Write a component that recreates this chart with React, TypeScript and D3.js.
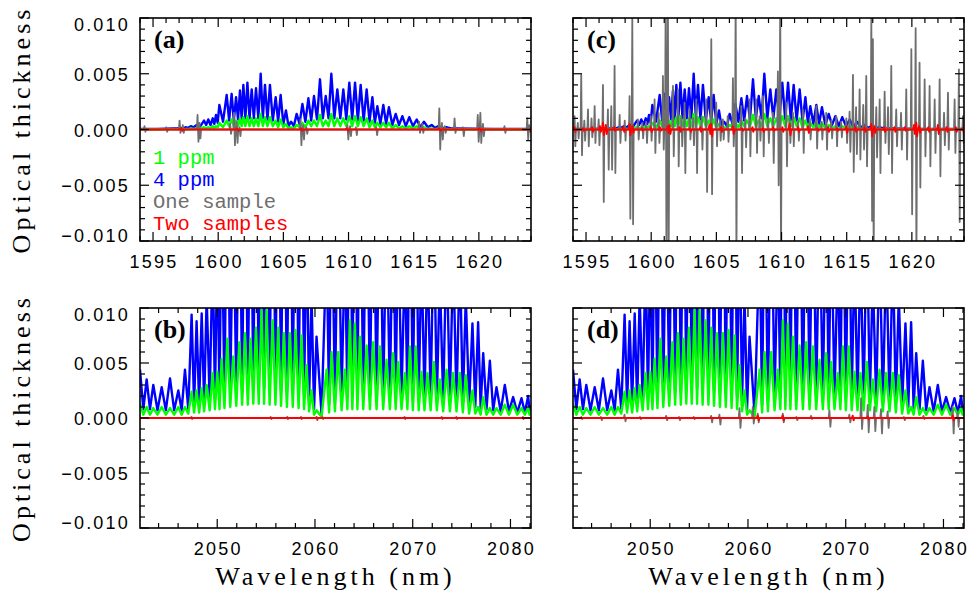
import React from "react";
import * as d3 from "d3";

// ---------------- DATA ----------------
// Panel (a)/(c): 1594-1624 nm band. Line centres (nm)
const aLines = [1594.0, 1596.6, 1597.1, 1597.5, 1597.9, 1598.35, 1598.91, 1599.24, 1599.58, 1599.83, 1600.09, 1600.65, 1601.03, 1601.37, 1601.67, 1601.93, 1602.24, 1602.57, 1602.9, 1603.26, 1603.59, 1603.97, 1604.41, 1604.79, 1605.2, 1605.59, 1606.02, 1606.46, 1606.92, 1607.35, 1607.81, 1608.25, 1608.68, 1609.14, 1609.6, 1610.06, 1610.5, 1610.93, 1611.39, 1611.83, 1612.21, 1612.67, 1613.1, 1613.62, 1614.13, 1614.66, 1615.23, 1615.79, 1616.38, 1616.9, 1617.5, 1618.2, 1624.0];
// 4 ppm peak optical thickness
const aBlue = [0.00005, 0.0001, 0.00015, 0.0002, 0.0003, 0.0004, 0.0008, 0.0009, 0.001, 0.0013, 0.0022, 0.0031, 0.0032, 0.0029, 0.0035, 0.004, 0.0042, 0.0036, 0.0037, 0.005, 0.004, 0.004, 0.0029, 0.0031, 0.0017, 0.0007, 0.0014, 0.0023, 0.0028, 0.003, 0.0045, 0.003, 0.005, 0.0036, 0.0036, 0.0042, 0.0042, 0.004, 0.0036, 0.0029, 0.0021, 0.0022, 0.002, 0.0014, 0.0012, 0.0011, 0.0009, 0.0007, 0.0004, 0.0003, 0.0002, 0.0001, 0.00005];
// 4 ppm value between consecutive lines
const aBlueTrough = [0.00005, 0.0001, 0.0001, 0.00015, 0.0002, 0.0003, 0.0004, 0.0004, 0.0005, 0.0006, 0.0007, 0.0008, 0.0008, 0.0009, 0.0009, 0.001, 0.001, 0.001, 0.001, 0.001, 0.0009, 0.0008, 0.0007, 0.0005, 0.0003, 0.0003, 0.0005, 0.0007, 0.0008, 0.0009, 0.001, 0.001, 0.001, 0.001, 0.0009, 0.0009, 0.0008, 0.0008, 0.0007, 0.0006, 0.0005, 0.0005, 0.0004, 0.0004, 0.0003, 0.0003, 0.0002, 0.0002, 0.00015, 0.0001, 0.0001, 0.00005];
// 1 ppm peak optical thickness
const aGreen = [0.00002, 0.00003, 0.00004, 0.00005, 0.0001, 0.0001, 0.0002, 0.0002, 0.0003, 0.0003, 0.0006, 0.0008, 0.0009, 0.0008, 0.001, 0.0011, 0.0012, 0.001, 0.001, 0.0014, 0.0011, 0.0011, 0.0008, 0.0009, 0.0005, 0.0002, 0.0004, 0.0006, 0.0008, 0.0008, 0.0013, 0.0008, 0.0014, 0.001, 0.001, 0.0012, 0.0012, 0.0011, 0.001, 0.0008, 0.0006, 0.0006, 0.0006, 0.0004, 0.0003, 0.0003, 0.0003, 0.0002, 0.0001, 0.0001, 0.00005, 0.00003, 0.00002];
const aGreenTrough = [0.00002, 0.00003, 0.00003, 0.00004, 0.00005, 0.0001, 0.0001, 0.0001, 0.00015, 0.0002, 0.0002, 0.0003, 0.0003, 0.0003, 0.0003, 0.0003, 0.0003, 0.0003, 0.0003, 0.0003, 0.0003, 0.0003, 0.0002, 0.0002, 0.0001, 0.0001, 0.0002, 0.0002, 0.0003, 0.0003, 0.0003, 0.0003, 0.0003, 0.0003, 0.0003, 0.0003, 0.0003, 0.0003, 0.0002, 0.0002, 0.0002, 0.0002, 0.0001, 0.0001, 0.0001, 0.0001, 0.00005, 0.00005, 0.00004, 0.00003, 0.00002, 0.00002];
// "One sample" retrieval error, panel (a): [nm, upper, lower]
const aGray = [[1594.38, 0.0003, -0.0002], [1596.05, 0.0002, -0.0002], [1597.07, 0.0008, -0.0003], [1597.32, 0.0004, -0.0003], [1598.45, 0.0013, -0.0011], [1598.6, 0.0006, -0.0008], [1600.95, 0.0005, -0.0004], [1601.25, 0.0015, -0.0014], [1601.45, 0.0007, -0.0012], [1601.67, 0.0002, -0.0006], [1606.35, 0.0009, -0.0014], [1606.55, 0.0004, -0.0009], [1606.8, 0.0002, -0.0004], [1609.95, 0.0004, -0.0009], [1610.15, 0.0003, -0.0006], [1610.6, 0.0002, -0.0005], [1612.16, 0.0002, -0.0005], [1615.45, 0.0007, -0.0003], [1615.7, 0.0005, -0.0003], [1617.0, 0.0019, -0.0018], [1617.2, 0.0006, -0.0009], [1617.42, 0.0003, -0.0003], [1618.17, 0.001, -0.0003], [1618.81, 0.0002, -0.0006], [1619.95, 0.0013, -0.0011], [1620.15, 0.0015, -0.0012], [1620.35, 0.0005, -0.0006], [1622.0, 0.0003, -0.0003], [1623.75, 0.001, -0.0009], [1623.9, 0.0004, -0.0002]];
const aRed = [[1597.2, 0.0001, -0.0001], [1601.5, 0.0001, -0.0001], [1606.4, 0.0001, -0.0001], [1609.9, 0.0001, -0.0001], [1617.0, 0.0001, -0.0001], [1620.1, 0.0001, -0.0001]];
// panel (c)
const cGray = [[1594.15, 0.0012, -0.0015], [1594.4, 0.0006, -0.0008], [1594.66, 0.0049, -0.0023], [1594.9, 0.0008, -0.0010], [1595.18, 0.0018, -0.0015], [1595.45, 0.0010, -0.0007], [1595.69, 0.0021, -0.0012], [1596.0, 0.0009, -0.0014], [1596.33, 0.004, -0.0065], [1596.71, 0.0018, -0.0036], [1596.97, 0.0021, -0.0036], [1597.22, 0.0057, -0.0039], [1597.61, 0.0013, -0.0012], [1598.0, 0.0008, -0.0010], [1598.37, 0.003, -0.008], [1598.58, 0.01, -0.0085], [1599.01, 0.0009, -0.0009], [1599.35, 0.0006, -0.0008], [1599.65, 0.0007, -0.0012], [1600.0, 0.0012, -0.0010], [1600.29, 0.0027, -0.0021], [1600.6, 0.0015, -0.0012], [1600.93, 0.0048, -0.0018], [1601.14, 0.012, -0.012], [1601.31, 0.012, -0.012], [1601.7, 0.0039, -0.0024], [1602.08, 0.0036, -0.0033], [1602.35, 0.0012, -0.0015], [1602.59, 0.0024, -0.0039], [1602.98, 0.0018, -0.0009], [1603.25, 0.0010, -0.0014], [1603.49, 0.0027, -0.0039], [1603.9, 0.0012, -0.0018], [1604.26, 0.0027, -0.0056], [1604.64, 0.0081, -0.0058], [1605.02, 0.0024, -0.0015], [1605.3, 0.0008, -0.0010], [1605.53, 0.0009, -0.0009], [1605.9, 0.0012, -0.0011], [1606.3, 0.0046, -0.0015], [1606.51, 0.012, -0.012], [1606.94, 0.0021, -0.0039], [1607.25, 0.0010, -0.0016], [1607.58, 0.0027, -0.0024], [1608.09, 0.0027, -0.0021], [1608.35, 0.0012, -0.0010], [1608.6, 0.003, -0.0024], [1609.0, 0.0010, -0.0012], [1609.37, 0.0015, -0.003], [1609.75, 0.0052, -0.005], [1609.93, 0.012, -0.012], [1610.39, 0.0024, -0.0033], [1610.65, 0.0010, -0.0012], [1610.91, 0.0015, -0.0015], [1611.3, 0.0008, -0.0010], [1611.67, 0.0018, -0.0021], [1612.2, 0.0010, -0.0009], [1612.7, 0.0021, -0.0017], [1613.1, 0.0007, -0.0009], [1613.46, 0.0015, -0.0018], [1613.85, 0.0008, -0.0008], [1614.23, 0.0012, -0.0015], [1614.6, 0.0007, -0.0007], [1615.0, 0.001, -0.0012], [1615.25, 0.0016, -0.0020], [1615.51, 0.0049, -0.0038], [1615.75, 0.0020, -0.0022], [1616.02, 0.0036, -0.0027], [1616.3, 0.0022, -0.0018], [1616.53, 0.0048, -0.0033], [1616.92, 0.0102, -0.0082], [1617.04, 0.0081, -0.012], [1617.3, 0.0020, -0.0025], [1617.56, 0.0027, -0.0039], [1617.94, 0.0034, -0.0012], [1618.2, 0.0020, -0.0022], [1618.45, 0.0057, -0.0039], [1618.83, 0.0018, -0.0015], [1619.2, 0.0015, -0.0018], [1619.6, 0.0036, -0.0027], [1619.99, 0.0072, -0.0076], [1620.32, 0.0091, -0.012], [1620.62, 0.006, -0.0052], [1621.01, 0.0045, -0.0024], [1621.39, 0.0039, -0.0033], [1621.78, 0.0027, -0.0021], [1622.16, 0.0045, -0.0042], [1622.5, 0.0015, -0.0014], [1622.8, 0.0033, -0.0018], [1623.31, 0.0027, -0.0021], [1623.64, 0.0054, -0.0083], [1623.95, 0.0012, -0.0012]];
const cRed = [[1594.15, 0.0002, -0.0002], [1594.8, 0.0001, -0.0001], [1595.5, 0.0002, -0.0002], [1596.1, 0.0003, -0.0002], [1596.33, 0.0006, -0.0005], [1596.55, 0.0004, -0.0004], [1597.2, 0.0002, -0.0001], [1597.9, 0.0002, -0.0002], [1598.37, 0.0005, -0.0005], [1598.6, 0.0003, -0.0003], [1599.3, 0.0001, -0.0001], [1600.0, 0.0002, -0.0002], [1600.7, 0.0002, -0.0001], [1601.3, 0.0003, -0.0003], [1601.44, 0.0004, -0.0004], [1602.2, 0.0002, -0.0002], [1603.0, 0.0001, -0.0002], [1603.8, 0.0002, -0.0002], [1604.5, 0.0004, -0.0004], [1604.64, 0.0005, -0.0006], [1605.4, 0.0002, -0.0002], [1606.3, 0.0003, -0.0004], [1607.0, 0.0001, -0.0001], [1607.8, 0.0002, -0.0002], [1608.6, 0.0001, -0.0002], [1609.4, 0.0002, -0.0001], [1610.1, 0.0002, -0.0002], [1610.65, 0.0005, -0.0005], [1611.3, 0.0002, -0.0002], [1612.06, 0.0003, -0.0003], [1612.8, 0.0001, -0.0001], [1613.6, 0.0002, -0.0002], [1614.3, 0.0001, -0.0001], [1615.0, 0.0003, -0.0003], [1615.7, 0.0002, -0.0002], [1616.4, 0.0002, -0.0002], [1616.92, 0.0005, -0.0006], [1617.15, 0.0003, -0.0003], [1617.9, 0.0002, -0.0002], [1618.7, 0.0002, -0.0002], [1619.5, 0.0002, -0.0001], [1620.2, 0.0004, -0.0004], [1620.37, 0.0006, -0.0006], [1620.6, 0.0003, -0.0003], [1621.3, 0.0002, -0.0002], [1622.03, 0.0004, -0.0004], [1622.7, 0.0002, -0.0002], [1623.4, 0.0002, -0.0002], [1623.9, 0.0001, -0.0001]];

// Panel (b)/(d): 2042-2082 nm band
const bLines = [2042.1, 2042.78, 2043.46, 2044.32, 2045.17, 2046.02, 2046.7, 2047.38, 2047.89, 2048.41, 2048.92, 2049.53, 2050.01, 2050.45, 2051.03, 2051.64, 2052.26, 2052.84, 2053.42, 2053.96, 2054.54, 2055.05, 2055.67, 2056.24, 2056.82, 2057.44, 2058.02, 2058.63, 2059.14, 2059.65, 2060.16, 2061.19, 2061.7, 2062.38, 2063.06, 2063.57, 2064.08, 2064.6, 2065.28, 2065.96, 2066.64, 2067.32, 2068.0, 2068.51, 2069.2, 2069.71, 2070.32, 2070.9, 2071.51, 2072.16, 2072.77, 2073.46, 2074.14, 2074.82, 2075.43, 2076.11, 2076.69, 2077.21, 2077.89, 2078.57, 2079.42, 2080.27, 2081.13, 2081.81, 2082.1];
const bBlue = [0.0044, 0.0035, 0.003, 0.0028, 0.0036, 0.0025, 0.0044, 0.0094, 0.0088, 0.0095, 0.011, 0.015, 0.016, 0.02, 0.026, 0.021, 0.025, 0.028, 0.026, 0.029, 0.034, 0.034, 0.031, 0.029, 0.028, 0.028, 0.029, 0.027, 0.018, 0.011, 0.0074, 0.016, 0.022, 0.022, 0.016, 0.031, 0.03, 0.026, 0.024, 0.025, 0.023, 0.019, 0.021, 0.0185, 0.015, 0.023, 0.023, 0.015, 0.015, 0.0185, 0.013, 0.016, 0.015, 0.015, 0.011, 0.0086, 0.0087, 0.0059, 0.0052, 0.0028, 0.003, 0.0019, 0.0018, 0.002, 0.0012];
const bBlueTrough = [0.0008, 0.0008, 0.0007, 0.0007, 0.0007, 0.0007, 0.0008, 0.0012, 0.0013, 0.0014, 0.0016, 0.0018, 0.0019, 0.002, 0.0022, 0.0023, 0.0024, 0.0025, 0.0026, 0.0027, 0.0027, 0.0027, 0.0026, 0.0025, 0.0024, 0.0023, 0.0022, 0.002, 0.0016, 0.0008, 0.0003, 0.0012, 0.0016, 0.0018, 0.0019, 0.002, 0.002, 0.002, 0.002, 0.002, 0.002, 0.0019, 0.0019, 0.0019, 0.0018, 0.0018, 0.0018, 0.0017, 0.0017, 0.0016, 0.0016, 0.0015, 0.0014, 0.0013, 0.0012, 0.001, 0.0009, 0.0008, 0.0007, 0.0006, 0.0006, 0.0005, 0.0005, 0.0006];
const bGreen = [0.0013, 0.001, 0.0009, 0.001, 0.0009, 0.001, 0.001, 0.0024, 0.0025, 0.0027, 0.003, 0.0041, 0.0042, 0.0054, 0.0072, 0.0056, 0.0069, 0.0077, 0.0072, 0.0082, 0.0098, 0.0098, 0.0089, 0.0082, 0.0077, 0.0077, 0.008, 0.0075, 0.0048, 0.0025, 0.0007, 0.0044, 0.006, 0.006, 0.0044, 0.0089, 0.0086, 0.0074, 0.0066, 0.0069, 0.0065, 0.0053, 0.0059, 0.0051, 0.0041, 0.0065, 0.0065, 0.0042, 0.0041, 0.0051, 0.0035, 0.0044, 0.0041, 0.0041, 0.0039, 0.0025, 0.001, 0.0019, 0.0009, 0.0009, 0.0012, 0.0012, 0.0009, 0.0009, 0.0006];
const bGreenTrough = [0.0003, 0.0003, 0.0003, 0.0003, 0.0003, 0.0003, 0.0004, 0.0005, 0.0005, 0.0006, 0.0007, 0.0008, 0.0008, 0.0009, 0.001, 0.0011, 0.0012, 0.0012, 0.0013, 0.0013, 0.0013, 0.0012, 0.0012, 0.0011, 0.001, 0.001, 0.0009, 0.0008, 0.0006, 0.0003, 0.0001, 0.0005, 0.0006, 0.0007, 0.0008, 0.0008, 0.0008, 0.0008, 0.0008, 0.0008, 0.0008, 0.0008, 0.0008, 0.0008, 0.0008, 0.0007, 0.0007, 0.0007, 0.0007, 0.0007, 0.0006, 0.0006, 0.0006, 0.0005, 0.0004, 0.0004, 0.0003, 0.0003, 0.0003, 0.0003, 0.0003, 0.0003, 0.0003, 0.0003];
const bGray = [[2047.4, 0.0001, -0.0001], [2055.5, 0.0001, -0.0001], [2057.2, 0.0001, -0.0001], [2058.6, 0.0001, -0.0001], [2060.2, 0.0001, -0.0002], [2060.8, 0.0001, -0.0001], [2069.2, 0.0001, -0.0001], [2073.0, 0.0001, -0.0001], [2074.5, 0.0001, -0.0001], [2081.3, 0.0001, -0.0001]];
const bRed = [[2060.2, 0.00005, -0.00005]];
const dGray = [[2043.0, 0.0001, -0.0001], [2045.0, 0.0001, -0.0002], [2047.42, 0.0003, -0.0003], [2049.0, 0.0001, -0.0001], [2051.68, 0.0002, -0.0002], [2053.0, 0.0001, -0.0002], [2054.5, 0.0001, -0.0001], [2056.28, 0.0002, -0.0004], [2057.13, 0.0003, -0.0006], [2059.18, 0.0009, -0.0009], [2060.54, 0.001, -0.0005], [2061.05, 0.0004, -0.0004], [2063.61, 0.0004, -0.0004], [2065.0, 0.0001, -0.0002], [2066.5, 0.0002, -0.0001], [2068.38, 0.0007, -0.0008], [2070.42, 0.0003, -0.0004], [2071.62, 0.0018, -0.001], [2072.3, 0.0012, -0.0013], [2072.98, 0.001, -0.0012], [2073.66, 0.0008, -0.0014], [2074.34, 0.0006, -0.0009], [2076.0, 0.0001, -0.0002], [2078.0, 0.0002, -0.0001], [2080.99, 0.001, -0.0014], [2081.5, 0.0005, -0.0008]];
const dRed = [[2061.05, 0.0002, -0.0002], [2063.61, 0.0002, -0.0002], [2070.76, 0.0002, -0.0002], [2072.3, 0.0001, -0.0001], [2081.0, 0.0002, -0.0002]];

const yMajor = [-0.01, -0.005, 0, 0.005, 0.01];
const yMajorLabels = ["\u22120.010", "\u22120.005", "0.000", "0.005", "0.010"];
const xMajorA = [1595, 1600, 1605, 1610, 1615, 1620];
const xMajorB = [2050, 2060, 2070, 2080];
const legendNames = ["1 ppm", "4 ppm", "One sample", "Two samples"];
const panelLetters = ["(a)", "(b)", "(c)", "(d)"];

// ---------------- STYLE ----------------
const COL = { green: "#00ff00", blue: "#0000ff", gray: "#6e6e6e", red: "#ff0000" };
const legendColors = [COL.green, COL.blue, COL.gray, COL.red];

type Tri = number[];
function peakPoints(lines: number[], peaks: number[], troughs: number[]): [number, number][] {
  const pts: [number, number][] = [];
  for (let i = 0; i < lines.length; i++) {
    pts.push([lines[i], peaks[i] ?? 0]);
    if (i < lines.length - 1) pts.push([(lines[i] + lines[i + 1]) / 2, troughs[i] ?? 0]);
  }
  return pts;
}
function triplePoints(tr: Tri[], dom: [number, number], bracket: boolean, w: number): [number, number][] {
  const pts: [number, number][] = [[dom[0], 0]];
  tr.forEach(([x, u, l]) => {
    if (bracket) pts.push([x - 2.5 * w, 0]);
    pts.push([x - w, u]);
    pts.push([x + w, l]);
    if (bracket) pts.push([x + 2.5 * w, 0]);
  });
  pts.push([dom[1], 0]);
  return pts;
}

type PanelDef = {
  id: string; x0: number; x1: number; y0: number; y1: number; dom: [number, number];
  major: number[]; minorStep: number; letter: string; yLabels: boolean; legend: boolean;
  series: { pts: [number, number][]; color: string; width: number }[];
};

const domA: [number, number] = [1594, 1624];
const domB: [number, number] = [2042.1, 2082.1];
const aBluePts = peakPoints(aLines, aBlue, aBlueTrough);
const aGreenPts = peakPoints(aLines, aGreen, aGreenTrough);
const bBluePts = peakPoints(bLines, bBlue, bBlueTrough);
const bGreenPts = peakPoints(bLines, bGreen, bGreenTrough);

const panels: PanelDef[] = [
  { id: "a", x0: 140, x1: 531, y0: 18, y1: 241, dom: domA, major: xMajorA, minorStep: 1, letter: panelLetters[0], yLabels: true, legend: true,
    series: [
      { pts: aBluePts, color: COL.blue, width: 2.4 },
      { pts: aGreenPts, color: COL.green, width: 2.4 },
      { pts: triplePoints(aGray, domA, true, 0.035), color: COL.gray, width: 1.8 },
      { pts: triplePoints(aRed, domA, true, 0.05), color: COL.red, width: 2 },
    ] },
  { id: "c", x0: 573, x1: 964, y0: 18, y1: 241, dom: domA, major: xMajorA, minorStep: 1, letter: panelLetters[2], yLabels: false, legend: false,
    series: [
      { pts: aBluePts, color: COL.blue, width: 2.4 },
      { pts: aGreenPts, color: COL.green, width: 2.4 },
      { pts: triplePoints(cGray, domA, true, 0.03), color: COL.gray, width: 1.8 },
      { pts: triplePoints(cRed, domA, true, 0.035), color: COL.red, width: 2 },
    ] },
  { id: "b", x0: 140, x1: 531, y0: 308, y1: 528, dom: domB, major: xMajorB, minorStep: 2, letter: panelLetters[1], yLabels: true, legend: false,
    series: [
      { pts: bBluePts, color: COL.blue, width: 2.4 },
      { pts: bGreenPts, color: COL.green, width: 2.4 },
      { pts: triplePoints(bGray, domB, true, 0.04), color: COL.gray, width: 1.8 },
      { pts: triplePoints(bRed, domB, true, 0.05), color: COL.red, width: 2 },
    ] },
  { id: "d", x0: 573, x1: 964, y0: 308, y1: 528, dom: domB, major: xMajorB, minorStep: 2, letter: panelLetters[3], yLabels: false, legend: false,
    series: [
      { pts: bBluePts, color: COL.blue, width: 2.4 },
      { pts: bGreenPts, color: COL.green, width: 2.4 },
      { pts: triplePoints(dGray, domB, true, 0.05), color: COL.gray, width: 1.8 },
      { pts: triplePoints(dRed, domB, true, 0.05), color: COL.red, width: 2 },
    ] },
];

const tickFont = "'Liberation Sans', Arial, sans-serif";
const titleFont = "'Liberation Serif', 'Times New Roman', serif";

function Panel({ p }: { p: PanelDef }) {
  const xs = d3.scaleLinear().domain(p.dom).range([p.x0, p.x1]);
  const ys = d3.scaleLinear().domain([-0.01, 0.01]).range([p.y1, p.y0]);
  const line = d3.line<[number, number]>().x((d) => xs(d[0])).y((d) => ys(d[1]));
  const yMinor = d3.range(-10, 11).map((k) => k / 1000).filter((v) => Math.abs(Math.round(v * 1000)) % 5 !== 0);
  const xMinor = d3.range(Math.ceil(p.dom[0] / p.minorStep) * p.minorStep, p.dom[1] + 1e-9, p.minorStep)
    .filter((v) => !p.major.includes(v));
  const MJ = 9, MN = 5;
  const clipId = `clip-${p.id}`;
  return (
    <g>
      <defs>
        <clipPath id={clipId}>
          <rect x={p.x0} y={p.y0} width={p.x1 - p.x0} height={p.y1 - p.y0} />
        </clipPath>
      </defs>
      <g clipPath={`url(#${clipId})`}>
        {p.series.map((s, i) => (
          <path key={i} d={line(s.pts) || ""} fill="none" stroke={s.color} strokeWidth={s.width} strokeLinejoin="round" />
        ))}
      </g>
      <g stroke="#000" strokeWidth={1.2}>
        {yMajor.map((v, i) => (
          <g key={"ym" + i}>
            <line x1={p.x0} x2={p.x0 + MJ} y1={ys(v)} y2={ys(v)} />
            <line x1={p.x1} x2={p.x1 - MJ} y1={ys(v)} y2={ys(v)} />
          </g>
        ))}
        {yMinor.map((v, i) => (
          <g key={"yn" + i}>
            <line x1={p.x0} x2={p.x0 + MN} y1={ys(v)} y2={ys(v)} />
            <line x1={p.x1} x2={p.x1 - MN} y1={ys(v)} y2={ys(v)} />
          </g>
        ))}
        {p.major.map((v, i) => (
          <g key={"xm" + i}>
            <line x1={xs(v)} x2={xs(v)} y1={p.y1} y2={p.y1 - MJ} />
            <line x1={xs(v)} x2={xs(v)} y1={p.y0} y2={p.y0 + MJ} />
          </g>
        ))}
        {xMinor.map((v, i) => (
          <g key={"xn" + i}>
            <line x1={xs(v)} x2={xs(v)} y1={p.y1} y2={p.y1 - MN} />
            <line x1={xs(v)} x2={xs(v)} y1={p.y0} y2={p.y0 + MN} />
          </g>
        ))}
      </g>
      <rect x={p.x0} y={p.y0} width={p.x1 - p.x0} height={p.y1 - p.y0} fill="none" stroke="#000" strokeWidth={1.6} />
      {p.yLabels &&
        yMajor.map((v, i) => {
          let y = ys(v) + 1;
          if (v === 0.01) y = ys(v) + 7;
          if (v === -0.01) y = ys(v) - 5;
          return (
            <text key={"yl" + i} x={p.x0 - 10} y={y} textAnchor="end" dominantBaseline="central"
              fontFamily={tickFont} fontSize={18} letterSpacing={2.2} fill="#000">
              {yMajorLabels[i]}
            </text>
          );
        })}
      {p.major.map((v, i) => (
        <text key={"xl" + i} x={xs(v) + 1} y={p.y1 + 27} textAnchor="middle" fontFamily={tickFont} fontSize={18}
          letterSpacing={2.2} fill="#000">
          {String(v)}
        </text>
      ))}
      <text x={p.x0 + 14} y={p.y0 + 30} fontFamily={titleFont} fontWeight="bold" fontSize={26} fill="#000">
        {p.letter}
      </text>
      {p.legend &&
        legendNames.map((n, i) => (
          <text key={"lg" + i} x={p.x0 + 13} y={p.y0 + 146 + 22 * i} fontFamily="'Liberation Mono', monospace"
            fontSize={20.5} fill={legendColors[i]}>
            {n}
          </text>
        ))}
    </g>
  );
}

export default function App() {
  return (
    <svg width={974} height={603} viewBox="0 0 974 603"
      style={{ position: "absolute", left: 0, top: 0, background: "#fff" }}>
      <rect x={0} y={0} width={974} height={603} fill="#fff" />
      {panels.map((p) => (
        <Panel key={p.id} p={p} />
      ))}
      {[129.5, 418].map((cy, i) => (
        <text key={"yt" + i} transform={`translate(30,${cy}) rotate(-90)`} textAnchor="middle"
          fontFamily={titleFont} fontSize={26} letterSpacing={4} fill="#000">
          Optical thickness
        </text>
      ))}
      {[335.5, 768.5].map((cx, i) => (
        <text key={"xt" + i} x={cx} y={585} textAnchor="middle" fontFamily={titleFont} fontSize={26}
          letterSpacing={4} fill="#000">
          Wavelength (nm)
        </text>
      ))}
    </svg>
  );
}
